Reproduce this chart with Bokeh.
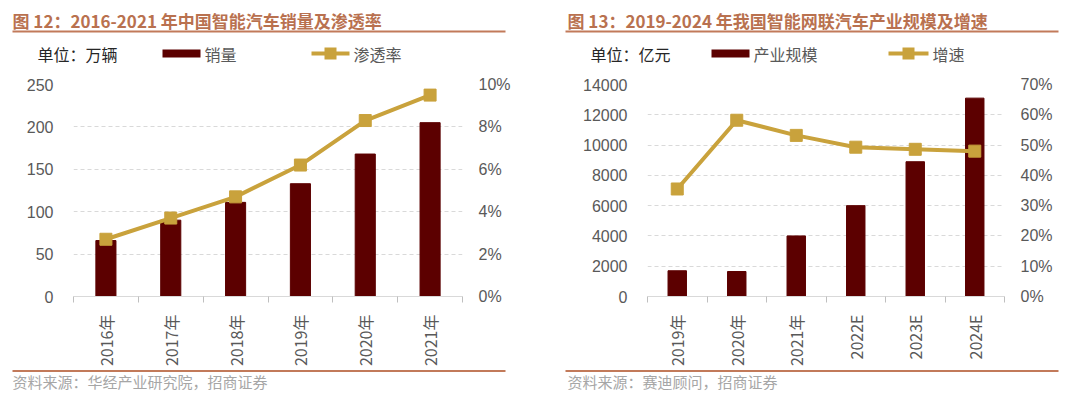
from math import pi
from bokeh.plotting import figure
from bokeh.models import (Range1d, LinearAxis, FixedTicker, NumeralTickFormatter,
                          Label, BoxAnnotation)
from bokeh.layouts import row, column
from bokeh.embed import file_html
from bokeh.resources import INLINE

# ---------------- data ----------------
years1 = ["2016年", "2017年", "2018年", "2019年", "2020年", "2021年"]
sales1 = [66, 90, 111, 133, 168, 205]                 # 万辆
rate1 = [0.027, 0.037, 0.047, 0.062, 0.083, 0.095]    # 渗透率
y1_ticks = [0, 50, 100, 150, 200, 250]
y1r_ticks = [0, 0.02, 0.04, 0.06, 0.08, 0.10]

years2 = ["2019年", "2020年", "2021年", "2022E", "2023E", "2024E"]
scale2 = [1700, 1650, 4000, 6000, 8900, 13100]        # 亿元
growth2 = [0.355, 0.582, 0.532, 0.493, 0.486, 0.480]  # 增速
y2_ticks = [0, 2000, 4000, 6000, 8000, 10000, 12000, 14000]
y2r_ticks = [0, 0.1, 0.2, 0.3, 0.4, 0.5, 0.6, 0.7]

title1 = "图 12：2016-2021 年中国智能汽车销量及渗透率"
unit1 = "单位：万辆"
bar_name1 = "销量"
line_name1 = "渗透率"
source1 = "资料来源：华经产业研究院，招商证券"

title2 = "图 13：2019-2024 年我国智能网联汽车产业规模及增速"
unit2 = "单位：亿元"
bar_name2 = "产业规模"
line_name2 = "增速"
source2 = "资料来源：赛迪顾问，招商证券"

# ---------------- style ----------------
BAR = "#5c0000"
GOLD = "#c9a23c"
TITLE_C = "#b9714f"
RULE_C = "#c27a5a"
TICK_C = "#595959"
GRID_C = "#d9d9d9"
CJK = "Noto Sans CJK SC"
NUM = "Liberation Sans"

TOTAL_W = 1077
HEAD_H = 64          # header strip: page y 0..64
CHART_H = 305        # charts: page y 64..369
FOOT_H = 23          # footer strip: page y 369..392
FRAME_TOP = 84
FRAME_BOTTOM = 297


def strip(height):
    s = figure(width=TOTAL_W, height=height, output_backend="svg", toolbar_location=None,
               x_range=Range1d(0, TOTAL_W), y_range=Range1d(0, height),
               x_axis_type=None, y_axis_type=None, min_border=0,
               min_border_left=0, min_border_right=0, min_border_top=0, min_border_bottom=0,
               outline_line_color=None, background_fill_color="white",
               border_fill_color="white")
    s.grid.visible = False
    return s


def add_label(fig, text, x, y, size, color, font=CJK, style="normal"):
    fig.add_layout(Label(x=x, y=y, x_units="screen", y_units="screen",
                         text=text, text_font=font, text_font_size=size,
                         text_font_style=style, text_color=color,
                         text_baseline="middle", text_align="left"))


def add_box(fig, x0, x1, y_top, y_bottom, color):
    fig.add_layout(BoxAnnotation(left=x0, right=x1, top=y_top, bottom=y_bottom,
                                 left_units="screen", right_units="screen",
                                 top_units="screen", bottom_units="screen",
                                 fill_color=color, fill_alpha=1.0, line_color=None))


# ---------------- header ----------------
head = strip(HEAD_H)


def hy(ry):
    return HEAD_H - ry


def header_block(title, title_x, rule_x0, rule_x1, unit, unit_x, bar_name, bx0, bx1,
                 line_name, lx0, lx1):
    add_label(head, title, title_x, hy(20), "17px", TITLE_C, style="bold")
    add_box(head, rule_x0, rule_x1, hy(30), hy(32), RULE_C)
    add_label(head, unit, unit_x, hy(53), "16px", "#262626")
    add_box(head, bx0, bx1, hy(49), hy(57), BAR)
    add_label(head, bar_name, bx1 + 4, hy(53), "16px", TICK_C)
    add_box(head, lx0, lx1, hy(51), hy(55), GOLD)
    mid = (lx0 + lx1) / 2
    add_box(head, mid - 6, mid + 6, hy(47), hy(59), GOLD)
    add_label(head, line_name, lx1 + 4, hy(53), "16px", TICK_C)


header_block(title1, 12, 12, 505, unit1, 37, bar_name1, 162, 200, line_name1, 311, 349)
header_block(title2, 567, 565, 1058, unit2, 590, bar_name2, 711, 749, line_name2, 888, 928)

# ---------------- footer ----------------
foot = strip(FOOT_H)


def fy(ry):
    return (HEAD_H + CHART_H + FOOT_H) - ry


add_box(foot, 12, 505, fy(369.5), fy(371.5), RULE_C)
add_label(foot, source1, 12, fy(381), "15px", "#a6a6a6")
add_box(foot, 565, 1058, fy(369.5), fy(371.5), RULE_C)
add_label(foot, source2, 567, fy(381), "15px", "#a6a6a6")


# ---------------- charts ----------------
def make_chart(cats, bars, line, yticks, y2ticks, fig_x0, fig_w, frame_l, frame_r):
    n = len(cats)
    xs = list(range(n))
    p = figure(width=fig_w, height=CHART_H, output_backend="svg", toolbar_location=None,
               x_range=Range1d(-0.5, n - 0.5), y_range=Range1d(yticks[0], yticks[-1]),
               min_border_left=frame_l - fig_x0, min_border_right=fig_x0 + fig_w - frame_r,
               min_border_top=FRAME_TOP - HEAD_H,
               min_border_bottom=HEAD_H + CHART_H - FRAME_BOTTOM,
               outline_line_color=None, background_fill_color="white",
               border_fill_color="white")
    p.extra_y_ranges = {"pct": Range1d(y2ticks[0], y2ticks[-1])}

    p.vbar(x=xs, top=bars, width=0.31, fill_color=BAR, line_color=BAR)
    p.line(x=xs, y=line, y_range_name="pct", line_color=GOLD, line_width=4)
    p.scatter(x=xs, y=line, y_range_name="pct", marker="square", size=12,
              fill_color=GOLD, line_color=GOLD)

    xa = p.xaxis[0]
    xa.ticker = FixedTicker(ticks=xs, minor_ticks=[i - 0.5 for i in range(n + 1)])
    xa.major_label_overrides = {i: c for i, c in zip(xs, cats)}
    xa.major_label_orientation = pi / 2
    xa.major_tick_line_color = None
    xa.major_tick_out = 0
    xa.major_tick_in = 0
    xa.minor_tick_line_color = "#bfbfbf"
    xa.minor_tick_out = 6
    xa.minor_tick_in = 0
    xa.axis_line_color = GRID_C
    xa.major_label_standoff = 12
    xa.major_label_text_font = CJK
    xa.major_label_text_font_size = "16px"
    xa.major_label_text_color = TICK_C

    ya = p.yaxis[0]
    ya.ticker = FixedTicker(ticks=yticks)
    ya.axis_line_color = None
    ya.major_tick_line_color = None
    ya.minor_tick_line_color = None
    ya.major_tick_out = 0
    ya.major_label_standoff = 20
    ya.major_label_text_font = NUM
    ya.major_label_text_font_size = "16px"
    ya.major_label_text_color = TICK_C

    ra = LinearAxis(y_range_name="pct", ticker=FixedTicker(ticks=y2ticks),
                    formatter=NumeralTickFormatter(format="0%"))
    ra.axis_line_color = None
    ra.major_tick_line_color = None
    ra.minor_tick_line_color = None
    ra.major_tick_out = 0
    ra.major_label_standoff = 16
    ra.major_label_text_font = NUM
    ra.major_label_text_font_size = "16px"
    ra.major_label_text_color = TICK_C
    p.add_layout(ra, "right")

    p.xgrid.visible = False
    p.ygrid.grid_line_color = GRID_C
    p.ygrid.grid_line_dash = "4 3"
    return p


p1 = make_chart(years1, sales1, rate1, y1_ticks, y1r_ticks, 0, 541, 73, 462)
p2 = make_chart(years2, scale2, growth2, y2_ticks, y2r_ticks, 541, TOTAL_W - 541, 647, 1004)

layout = column(head, row(p1, p2), foot)
open("out.html", "w").write(file_html(layout, INLINE))
